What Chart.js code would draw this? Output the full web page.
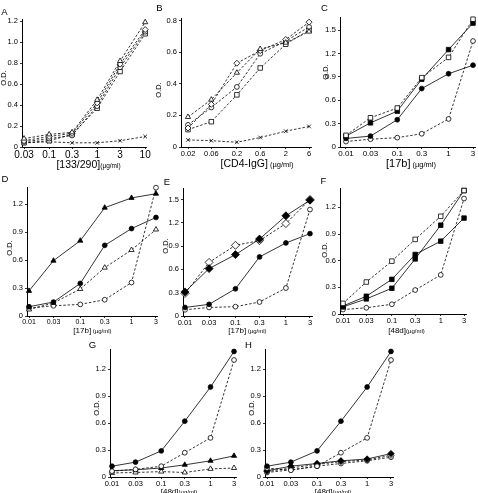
<!DOCTYPE html>
<html><head><meta charset="utf-8">
<script src="https://cdn.jsdelivr.net/npm/chart.js@4/dist/chart.umd.min.js"></script>
<style>
html,body{margin:0;padding:0;background:#fff;}
body{width:478px;height:493px;position:relative;overflow:hidden;font-family:"Liberation Sans",Arial,sans-serif;color:#000;}
canvas{position:absolute;}
.t{position:absolute;white-space:nowrap;line-height:1;transform:translate(-50%,-50%);}
.od{position:absolute;white-space:nowrap;line-height:1;font-size:7.5px;transform:translate(-50%,-50%) rotate(-90deg);}
.u{font-size:6.5px;}
</style></head><body>
<script>
// ---------- DATA ----------
const xA = [0.03, 0.1, 0.3, 1, 3, 10];
const xALabels = ['0.03','0.1','0.3','1','3','10'];
const xB = [0.02, 0.06, 0.2, 0.6, 2, 6];
const xBLabels = ['0.02','0.06','0.2','0.6','2','6'];
const xConc = [0.01, 0.03, 0.1, 0.3, 1, 3];
const xConcLabels = ['0.01','0.03','0.1','0.3','1','3'];

const yTicksA = [0, 0.2, 0.4, 0.6, 0.8, 1.0, 1.2];
const yLabelsA = ['0','0.2','0.4','0.6','0.8','1.0','1.2'];
const yTicksB = [0, 0.2, 0.4, 0.6, 0.8];
const yLabelsB = ['0','0.2','0.4','0.6','0.8'];
const yTicks15 = [0, 0.3, 0.6, 0.9, 1.2, 1.5];
const yLabels15 = ['0','0.3','0.6','0.9','1.2','1.5'];
const yTicks12 = [0, 0.3, 0.6, 0.9, 1.2];
const yLabels12 = ['0','0.3','0.6','0.9','1.2'];

const A_tri  = [0.08, 0.12, 0.14, 0.45, 0.82, 1.19];
const A_dia  = [0.06, 0.10, 0.13, 0.42, 0.79, 1.12];
const A_circ = [0.05, 0.08, 0.11, 0.39, 0.76, 1.10];
const A_sq   = [0.04, 0.06, 0.12, 0.37, 0.72, 1.08];
const A_x    = [0.04, 0.05, 0.04, 0.04, 0.06, 0.10];

const B_tri  = [0.19, 0.30, 0.47, 0.62, 0.66, 0.73];
const B_dia  = [0.12, 0.27, 0.53, 0.61, 0.68, 0.79];
const B_circ = [0.14, 0.25, 0.38, 0.59, 0.67, 0.76];
const B_sq   = [0.11, 0.16, 0.33, 0.50, 0.65, 0.74];
const B_x    = [0.045, 0.04, 0.03, 0.06, 0.10, 0.13];

const C_osq   = [0.15, 0.375, 0.50, 0.89, 1.15, 1.64];
const C_fsq   = [0.14, 0.31, 0.46, 0.87, 1.25, 1.59];
const C_fcirc = [0.11, 0.14, 0.35, 0.75, 0.94, 1.05];
const C_ocirc = [0.07, 0.10, 0.12, 0.17, 0.36, 1.36];

const D_ftri  = [0.27, 0.595, 0.81, 1.165, 1.27, 1.315];
const D_fcirc = [0.10, 0.15, 0.35, 0.76, 0.94, 1.06];
const D_otri  = [0.07, 0.14, 0.29, 0.52, 0.71, 0.93];
const D_ocirc = [0.085, 0.11, 0.125, 0.175, 0.36, 1.38];

const E_fdia  = [0.31, 0.61, 0.79, 0.99, 1.29, 1.49];
const E_odia  = [0.29, 0.69, 0.91, 0.97, 1.19, 1.50];
const E_fcirc = [0.11, 0.15, 0.35, 0.76, 0.94, 1.06];
const E_ocirc = [0.08, 0.11, 0.12, 0.18, 0.36, 1.37];

const F_osq   = [0.12, 0.36, 0.595, 0.84, 1.10, 1.39];
const F_fsq1  = [0.09, 0.20, 0.39, 0.67, 0.82, 1.08];
const F_fsq2  = [0.08, 0.17, 0.29, 0.62, 1.00, 1.39];
const F_ocirc = [0.05, 0.07, 0.11, 0.27, 0.44, 1.30];

const G_fcirc = [0.12, 0.165, 0.29, 0.62, 1.00, 1.395];
const G_ocirc = [0.065, 0.085, 0.12, 0.27, 0.435, 1.30];
const G_ftri  = [0.07, 0.08, 0.10, 0.135, 0.18, 0.235];
const G_otri  = [0.045, 0.05, 0.06, 0.05, 0.09, 0.10];

const H_fcirc  = [0.12, 0.165, 0.29, 0.62, 1.00, 1.395];
const H_ocirc  = [0.10, 0.075, 0.12, 0.27, 0.435, 1.30];
const H_fdia   = [0.07, 0.12, 0.15, 0.18, 0.20, 0.26];
const H_odia   = [0.06, 0.10, 0.14, 0.17, 0.19, 0.24];
const H_ocirc2 = [0.05, 0.08, 0.12, 0.15, 0.18, 0.22];

// ---------- STYLES ----------
const ST = {
  otri:  {shape:'triangle', filled:false, dashed:true,  r:3},
  odia:  {shape:'rectRot',  filled:false, dashed:true,  r:3},
  ocirc: {shape:'circle',   filled:false, dashed:true,  r:2.4},
  osq:   {shape:'rect',     filled:false, dashed:true,  r:3.2},
  xd:    {shape:'crossRot', filled:false, dashed:true,  r:2.6},
  fsq:   {shape:'rect',     filled:true,  dashed:false, r:3.2},
  fcirc: {shape:'circle',   filled:true,  dashed:false, r:2.4},
  ftri:  {shape:'triangle', filled:true,  dashed:false, r:3},
  fdiaL: {shape:'rectRot',  filled:true,  dashed:false, r:4},
  odiaL: {shape:'rectRot',  filled:false, dashed:true,  r:4},
  fdia:  {shape:'rectRot',  filled:true,  dashed:false, r:3.2},
};

const panels = [
  {id:'A', L:22, R:146, T:19, B:147, xmin:0.0272, xmax:10.4, ymax:1.216, xs:xA, xl:xALabels, yt:yTicksA, yl:yLabelsA, xf:10, yf:7.5,
   series:[[A_tri,'otri'],[A_dia,'odia'],[A_circ,'ocirc'],[A_sq,'osq'],[A_x,'xd']]},
  {id:'B', L:181, R:311, T:18, B:147, xmin:0.01438, xmax:6.57, ymax:0.813, xs:xB, xl:xBLabels, yt:yTicksB, yl:yLabelsB, xf:7.5, yf:7.5,
   series:[[B_tri,'otri'],[B_dia,'odia'],[B_circ,'ocirc'],[B_sq,'osq'],[B_x,'xd']]},
  {id:'C', L:340, R:475, T:17, B:147, xmin:0.00764, xmax:3.28, ymax:1.658, xs:xConc, xl:xConcLabels, yt:yTicks15, yl:yLabels15, xf:8, yf:8,
   series:[[C_osq,'osq'],[C_fsq,'fsq'],[C_fcirc,'fcirc'],[C_ocirc,'ocirc']]},
  {id:'D', L:27, R:157, T:187, B:316, xmin:0.00914, xmax:3.14, ymax:1.382, xs:xConc, xl:xConcLabels, yt:yTicks12, yl:yLabels12, xf:7, yf:7.5,
   series:[[D_ftri,'ftri'],[D_fcirc,'fcirc'],[D_otri,'otri'],[D_ocirc,'ocirc']]},
  {id:'E', L:183, R:312, T:188, B:316, xmin:0.00913, xmax:3.29, ymax:1.641, xs:xConc, xl:xConcLabels, yt:yTicks15, yl:yLabels15, xf:7.5, yf:7.5,
   series:[[E_fdia,'fdiaL'],[E_odia,'odiaL'],[E_fcirc,'fcirc'],[E_ocirc,'ocirc']]},
  {id:'F', L:340, R:466, T:188, B:314, xmin:0.00868, xmax:3.29, ymax:1.413, xs:xConc, xl:xConcLabels, yt:yTicks12, yl:yLabels12, xf:7.5, yf:7.5,
   series:[[F_osq,'osq'],[F_fsq1,'fsq'],[F_fsq2,'fsq'],[F_ocirc,'ocirc']]},
  {id:'G', L:110, R:236, T:349, B:477, xmin:0.00911, xmax:3.29, ymax:1.417, xs:xConc, xl:xConcLabels, yt:yTicks12, yl:yLabels12, xf:7.5, yf:7.5,
   series:[[G_fcirc,'fcirc'],[G_ocirc,'ocirc'],[G_ftri,'ftri'],[G_otri,'otri']]},
  {id:'H', L:265, R:393, T:349, B:477, xmin:0.00912, xmax:3.29, ymax:1.417, xs:xConc, xl:xConcLabels, yt:yTicks12, yl:yLabels12, xf:7.5, yf:7.5,
   series:[[H_fcirc,'fcirc'],[H_ocirc,'ocirc'],[H_fdia,'fdia'],[H_odia,'odia'],[H_ocirc2,'ocirc']]},
];

const FONT = '"Liberation Sans", Arial, sans-serif';

panels.forEach(p => {
  const yw = Math.min(24, p.L), pt = 6, pr = 8, xh = 13;
  const cl = p.L - yw, ct = p.T - pt;
  const cw = p.R + pr - cl, ch = p.B + xh - ct;
  const cv = document.createElement('canvas');
  cv.width = cw; cv.height = ch;
  cv.style.left = cl + 'px'; cv.style.top = ct + 'px';
  cv.style.width = cw + 'px'; cv.style.height = ch + 'px';
  document.body.appendChild(cv);
  const datasets = p.series.map(([vals, key]) => {
    const s = ST[key];
    return {
      data: p.xs.map((x, i) => ({x: x, y: vals[i]})),
      borderColor: '#000', borderWidth: 0.8,
      borderDash: s.dashed ? [2.5, 1.8] : [],
      pointStyle: s.shape, pointRadius: s.r,
      pointBackgroundColor: s.filled ? '#000' : '#fff',
      pointBorderColor: '#000', pointBorderWidth: 0.8,
      tension: 0, fill: false, clip: false
    };
  });
  new Chart(cv.getContext('2d'), {
    type: 'line',
    data: {datasets},
    options: {
      responsive: false, animation: false, devicePixelRatio: 1,
      layout: {padding: {left: 0, top: pt, right: pr, bottom: 0}},
      plugins: {legend: {display: false}, tooltip: {enabled: false}},
      scales: {
        x: {
          type: 'logarithmic', min: p.xmin, max: p.xmax,
          afterBuildTicks: sc => { sc.ticks = p.xs.map(v => ({value: v})); },
          afterFit: sc => { sc.height = xh; },
          ticks: {autoSkip: false, maxRotation: 0, minRotation: 0, padding: 0, color: '#000',
                  font: {family: FONT, size: p.xf}, callback: (v, i) => p.xl[i]},
          grid: {display: true, drawOnChartArea: false, drawTicks: true, tickLength: 2, color: '#000', lineWidth: 0.8},
          border: {display: true, color: '#000', width: 1}
        },
        y: {
          type: 'linear', min: 0, max: p.ymax,
          afterBuildTicks: sc => { sc.ticks = p.yt.map(v => ({value: v})); },
          afterFit: sc => { sc.width = yw; },
          ticks: {padding: 2, color: '#000', font: {family: FONT, size: p.yf}, callback: (v, i) => p.yl[i]},
          grid: {display: true, drawOnChartArea: false, drawTicks: true, tickLength: 2, color: '#000', lineWidth: 0.8},
          border: {display: true, color: '#000', width: 1}
        }
      }
    }
  });
});

// ---------- TEXT (panel letters, axis titles) ----------
const letters = [['A',4.5,11.5],['B',159.5,8],['C',324.5,8],['D',5,178.5],['E',167,181.5],['F',323.5,181],['G',92.5,345],['H',248.5,345]];
letters.forEach(([t,x,y]) => {
  const d = document.createElement('div'); d.className = 't';
  d.style.left = x + 'px'; d.style.top = y + 'px'; d.style.fontSize = '9.5px';
  d.textContent = t; document.body.appendChild(d);
});
const ods = [[4,78],[159,90],[326,72],[10,248],[166,246],[325,250],[97,408],[252,408]];
ods.forEach(([x,y]) => {
  const d = document.createElement('div'); d.className = 'od';
  d.style.left = x + 'px'; d.style.top = y + 'px';
  d.textContent = 'O.D.'; document.body.appendChild(d);
});
const xtitles = [
  ['[133/290]', '(µg/ml)', 88.5, 164, 10.5, 6.5],
  ['[CD4-IgG]', ' (µg/ml)', 257, 163, 10.5, 7.5],
  ['[17b]', ' (µg/ml)', 411, 163, 11, 7.5],
  ['[17b]', ' (µg/ml)', 92.5, 331, 8, 6],
  ['[17b]', ' (µg/ml)', 247.5, 331, 8, 6],
  ['[48d]', '(µg/ml)', 406.5, 331, 8, 6],
  ['[48d]', '(µg/ml)', 179, 492, 8, 6],
  ['[48d]', '(µg/ml)', 333, 492, 8, 6],
];
xtitles.forEach(([a,u,x,y,fa,fu]) => {
  const d = document.createElement('div'); d.className = 't';
  d.style.left = x + 'px'; d.style.top = y + 'px'; d.style.fontSize = fa + 'px';
  d.textContent = a;
  const s = document.createElement('span'); s.style.fontSize = fu + 'px'; s.textContent = u;
  d.appendChild(s); document.body.appendChild(d);
});
</script>
</body></html>
